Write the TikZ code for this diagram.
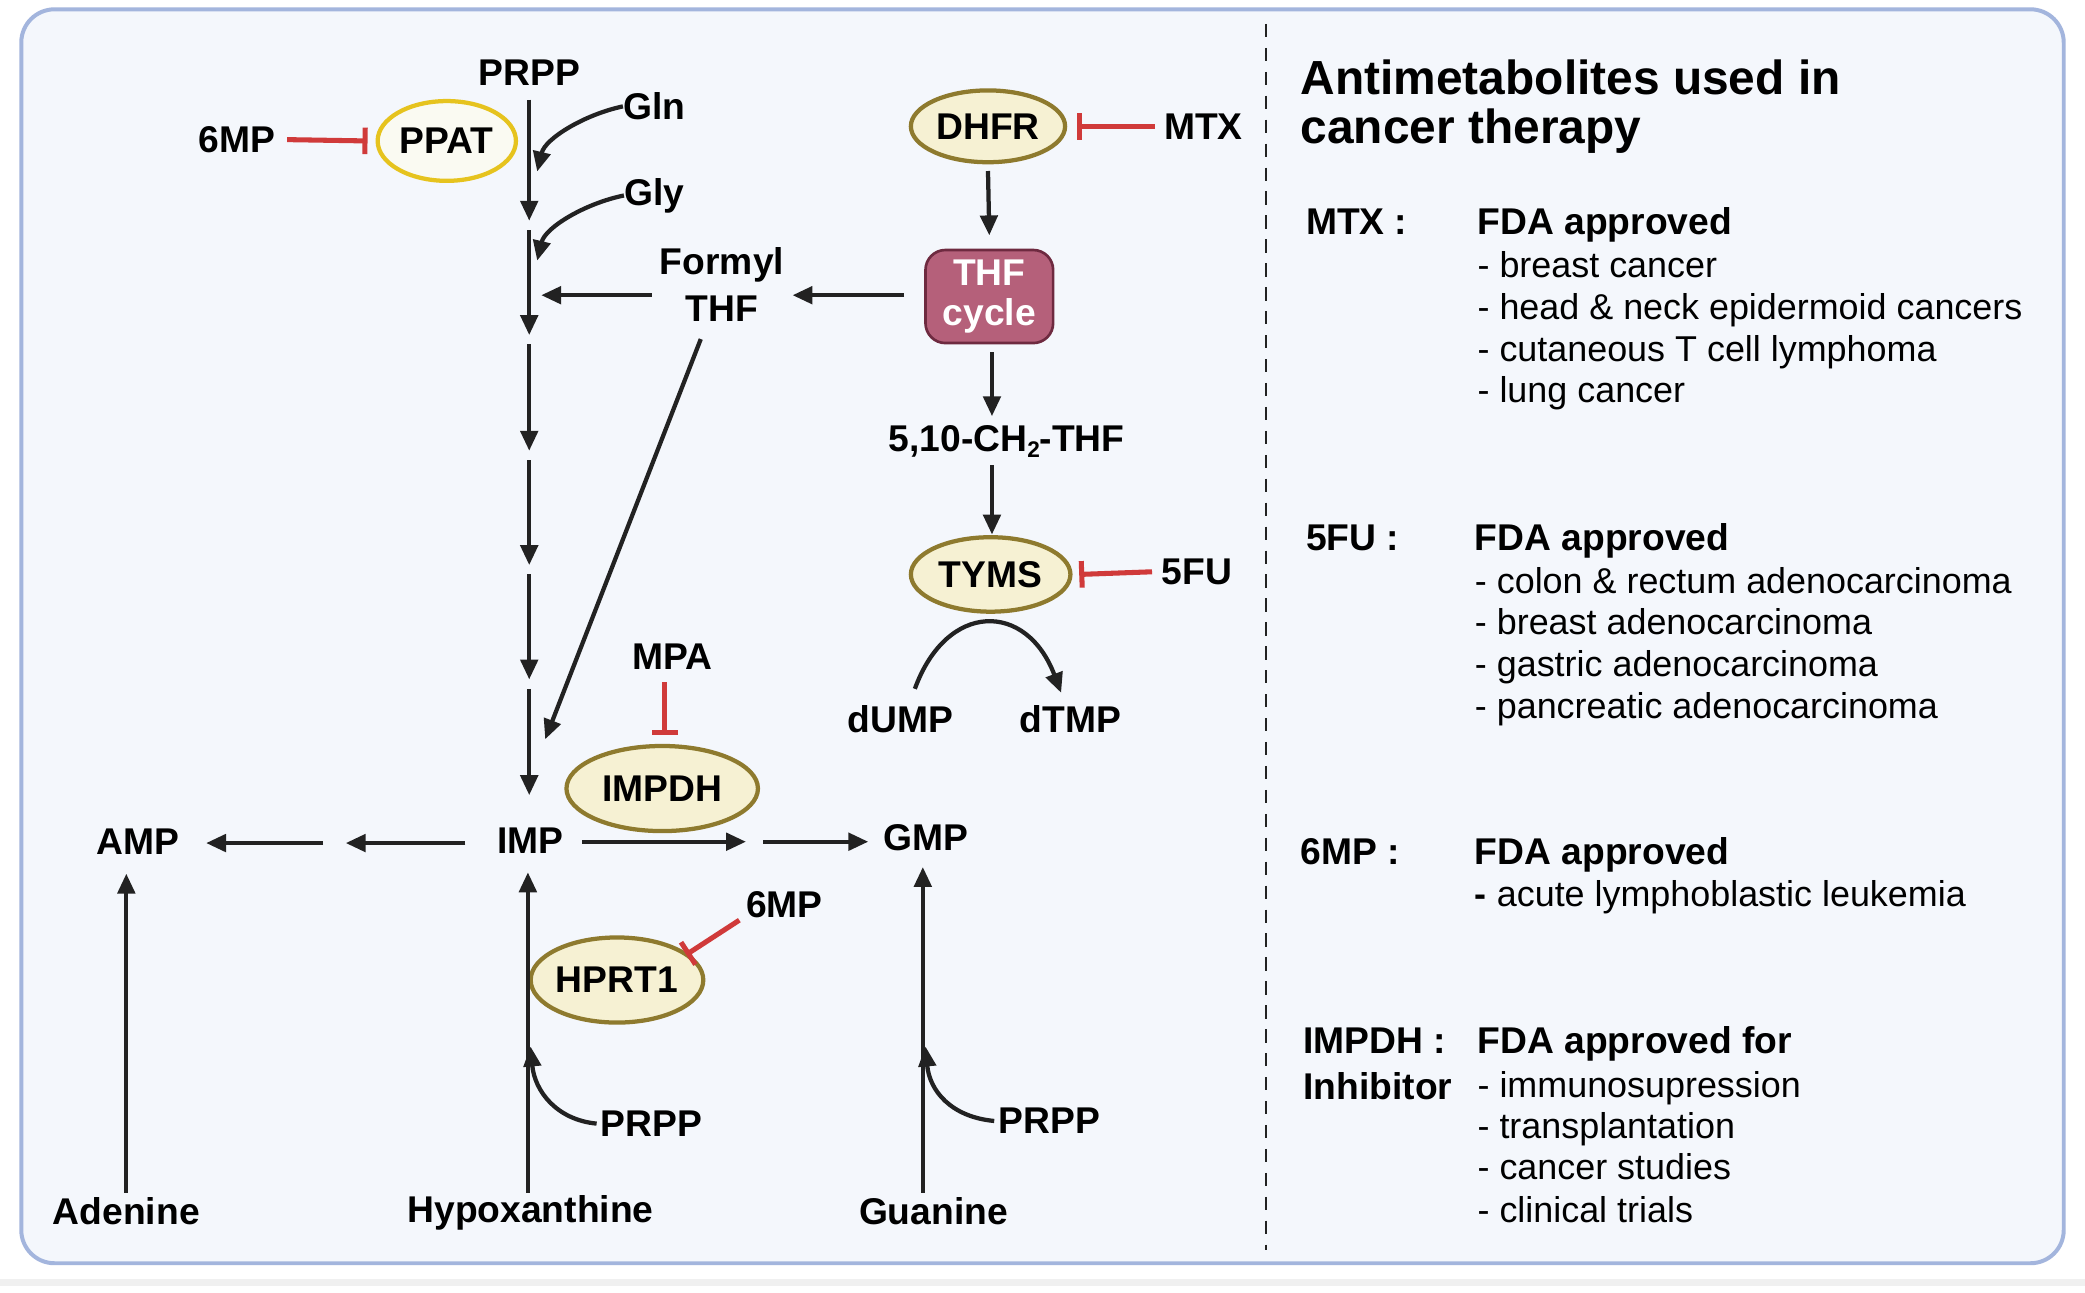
\documentclass[tikz,border=0pt]{standalone}
\usepackage{fontspec}
\setmainfont{Liberation Sans}
\usetikzlibrary{arrows.meta,shapes.geometric}
\definecolor{bgc}{HTML}{F4F7FC}
\definecolor{bordc}{HTML}{A3B5DD}
\definecolor{ink}{HTML}{222222}
\definecolor{inhred}{HTML}{D03A3A}
\definecolor{enzb}{HTML}{8E7A2E}
\definecolor{enzf}{HTML}{F6F1D3}
\definecolor{ppatb}{HTML}{E6C31E}
\definecolor{ppatf}{HTML}{FAFAF2}
\definecolor{thff}{HTML}{B5607A}
\definecolor{thfb}{HTML}{6E2A40}
\newcommand{\lblfont}{\fontsize{28}{34}\selectfont\bfseries}
\newcommand{\itemfont}{\fontsize{27}{31}\selectfont}
\newcommand{\titlefont}{\fontsize{36}{38}\selectfont\bfseries}
\begin{document}
\begin{tikzpicture}[x=1pt,y=-1pt,
  lbl/.style={font=\lblfont, inner sep=0pt, text=black},
  enzyme/.style={ellipse, draw=enzb, fill=enzf, line width=3.2pt, inner sep=0pt, font=\lblfont},
  arr/.style={draw=ink, line width=3.2pt, -{Triangle[length=15pt,width=13pt]}},
  inh/.style={draw=inhred, line width=3.8pt, -{Bar[width=20pt]}},
  rtxt/.style={anchor=base west, inner sep=0pt, font=\itemfont},
  rhead/.style={anchor=base west, inner sep=0pt, font=\lblfont},
]
% background
\fill[white] (0,0) rectangle (1568,972);
\fill[black!6] (0,962) rectangle (1568,967);
\draw[draw=bordc, fill=bgc, line width=3pt, rounded corners=25pt] (16,7) rectangle (1552,950);
\draw[ink, line width=1.8pt, dash pattern=on 10pt off 8pt] (952,18) -- (952,940);

% ---------- de novo pathway ----------
\node[lbl] (prpp) at (398,55) {PRPP};
\coordinate (m0) at (398,75);  \coordinate (m1) at (398,166);
\coordinate (m2) at (398,173); \coordinate (m3) at (398,252);
\coordinate (m4) at (398,259); \coordinate (m5) at (398,339);
\coordinate (m6) at (398,346); \coordinate (m7) at (398,425);
\coordinate (m8) at (398,432); \coordinate (m9) at (398,511);
\coordinate (m10) at (398,518); \coordinate (m11) at (398,598);
\draw[arr] (m0) -- (m1);
\draw[arr] (m2) -- (m3);
\draw[arr] (m4) -- (m5);
\draw[arr] (m6) -- (m7);
\draw[arr] (m8) -- (m9);
\draw[arr] (m10) -- (m11);

\node[lbl] (gln) at (492,80) {Gln};
\node[lbl] (gly) at (492,147) {Gly};
\coordinate (glnend) at (404,129);
\coordinate (glyend) at (404,196);
\draw[arr] (gln.west) .. controls (440,86) and (410,104) .. (glnend);
\draw[arr] (gly.west) .. controls (440,153) and (410,171) .. (glyend);

\node[ellipse, draw=ppatb, fill=ppatf, line width=3.2pt, inner sep=0pt,
      minimum width=104pt, minimum height=60pt, font=\lblfont] (ppat) at (336,106) {PPAT};
\node[lbl] (mpa1) at (178,105) {6MP};
\draw[inh] ([xshift=9pt]mpa1.east) -- ([xshift=-6pt]ppat.west);

\node[lbl, align=center, font=\fontsize{28}{35}\selectfont\bfseries] (fthf) at (543,214) {Formyl\\THF};
\coordinate (fthfin) at (490,222);
\coordinate (mainf) at (407,222);
\draw[arr] (fthfin) -- (mainf);
\coordinate (fthfdiag) at (527,255);
\coordinate (impin) at (410,556);
\draw[arr] (fthfdiag) -- (impin);

% ---------- folate cycle ----------
\node[enzyme, minimum width=116pt, minimum height=54pt] (dhfr) at (743,95) {DHFR};
\node[lbl] (mtx) at (905,95) {MTX};
\draw[inh] ([xshift=-7pt]mtx.west) -- ([xshift=7pt]dhfr.east);

\node[draw=thfb, fill=thff, line width=2pt, rounded corners=15pt,
      minimum width=96pt, minimum height=70pt, inner sep=0pt, align=center,
      text=white, font=\fontsize{28}{30}\selectfont\bfseries] (thf) at (744,223) {THF\\cycle};
\draw[arr] ([yshift=-5pt]dhfr.south) -- ([yshift=10pt]thf.north);
\coordinate (thfout) at (680,222);
\coordinate (fthfout) at (596,222);
\draw[arr] (thfout) -- (fthfout);

\node[lbl] (ch2) at (757,332) {5,10-CH\raisebox{-0.3ex}{\fontsize{17}{17}\selectfont 2}-THF};
\coordinate (t1) at (746,265); \coordinate (t2) at (746,313);
\draw[arr] (t1) -- (t2);
\coordinate (t3) at (746,350); \coordinate (t4) at (746,402);
\draw[arr] (t3) -- (t4);

\node[enzyme, minimum width=120pt, minimum height=56pt] (tyms) at (745,432) {TYMS};
\node[lbl] (fu) at (900,430) {5FU};
\draw[inh] ([xshift=-7pt]fu.west) -- ([xshift=5pt]tyms.east);

\node[lbl] (dump) at (677,541) {dUMP};
\node[lbl] (dtmp) at (805,541) {dTMP};
\coordinate (arcs) at (688,518);
\coordinate (arce) at (798,521);
\draw[arr] (arcs) .. controls (712,452) and (772,452) .. (arce);

% ---------- IMP region ----------
\node[lbl] (mpa) at (506,494) {MPA};
\node[enzyme, minimum width=144pt, minimum height=64pt] (impdh) at (498,593) {IMPDH};
\draw[inh] (500,513) -- (500,553);

\node[lbl] (imp) at (399,632) {IMP};
\node[lbl] (amp) at (104,633) {AMP};
\node[lbl] (gmp) at (696,630) {GMP};
\coordinate (l1) at (350,634); \coordinate (l2) at (260,634);
\coordinate (l3) at (243,634); \coordinate (l4) at (155,634);
\draw[arr] (l1) -- (l2);
\draw[arr] (l3) -- (l4);
\coordinate (r1) at (438,633); \coordinate (r2) at (561,633);
\coordinate (r3) at (574,633); \coordinate (r4) at (653,633);
\draw[arr] (r1) -- (r2);
\draw[arr] (r3) -- (r4);

\node[enzyme, minimum width=116pt, minimum height=64pt] (hprt) at (464,737) {HPRT1};
\node[lbl] (mp2) at (590,680) {6MP};
\draw[inh] (556,692) -- (516,718);

% ---------- salvage ----------
\node[lbl] (aden) at (95,911) {Adenine};
\node[lbl] (hypo) at (399,912) {Hypoxanthine};
\node[lbl] (guan) at (702,911) {Guanine};
\draw[arr] (95,897) -- (95,657);
\draw[arr] (397,897) -- (397,656);
\draw[arr] (694,897) -- (694,652);
\node[lbl] (prpp2) at (490,845) {PRPP};
\node[lbl] (prpp3) at (789,843) {PRPP};
\coordinate (h1) at (399,787);
\coordinate (g1) at (696,787);
\draw[arr] ([xshift=-3pt]prpp2.west) .. controls (418,842) and (402,820) .. (h1);
\draw[arr] ([xshift=-3pt]prpp3.west) .. controls (715,840) and (699,820) .. (g1);

% ---------- right panel ----------
\node[anchor=base west, inner sep=0pt, font=\titlefont] (tt1) at (978,71) {Antimetabolites used in};
\node[anchor=base west, inner sep=0pt, font=\titlefont] (tt2) at (978,108) {cancer therapy};

\node[rhead] (mtxh) at (982,176) {MTX :};
\node[rhead] (mtxf) at (1111,176) {FDA approved};
\node[rtxt] (mtx1) at (1111,209) {- breast cancer};
\node[rtxt] (mtx2) at (1111,240) {- head \& neck epidermoid cancers};
\node[rtxt] (mtx3) at (1111,272) {- cutaneous T cell lymphoma};
\node[rtxt] (mtx4) at (1111,303) {- lung cancer};

\node[rhead] (fuh) at (982,414) {5FU :};
\node[rhead] (fuf) at (1109,414) {FDA approved};
\node[rtxt] (fu1) at (1109,446) {- colon \& rectum adenocarcinoma};
\node[rtxt] (fu2) at (1109,477) {- breast adenocarcinoma};
\node[rtxt] (fu3) at (1109,509) {- gastric adenocarcinoma};
\node[rtxt] (fu4) at (1109,540) {- pancreatic adenocarcinoma};

\node[rhead] (mph) at (978,650) {6MP :};
\node[rhead] (mpf) at (1109,650) {FDA approved};
\node[rtxt] (mp1i) at (1109,682) {{\bfseries -} acute lymphoblastic leukemia};

\node[rhead] (imh) at (980,792) {IMPDH :};
\node[rhead] (imh2) at (980,827) {Inhibitor};
\node[rhead] (imf) at (1111,792) {FDA approved for};
\node[rtxt] (im1) at (1111,825) {- immunosupression};
\node[rtxt] (im2) at (1111,856) {- transplantation};
\node[rtxt] (im3) at (1111,887) {- cancer studies};
\node[rtxt] (im4) at (1111,919) {- clinical trials};
\end{tikzpicture}
\end{document}
